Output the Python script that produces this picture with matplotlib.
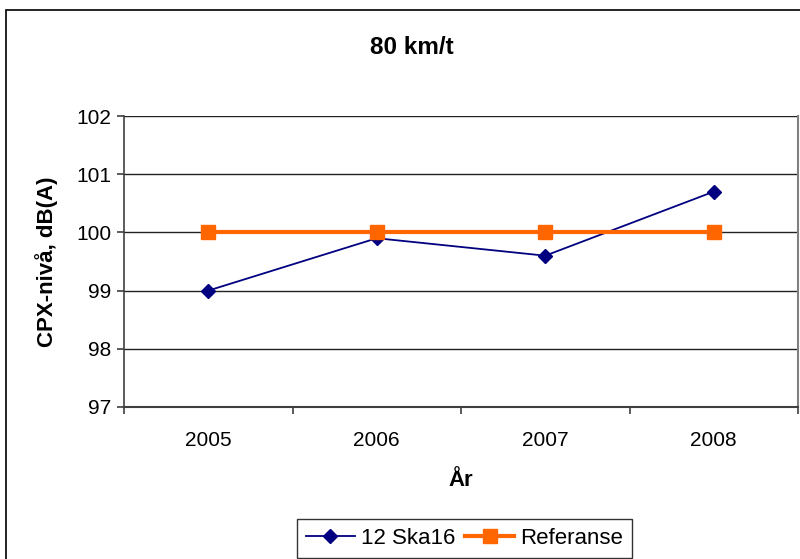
import matplotlib
matplotlib.use("Agg")
import matplotlib.pyplot as plt
from matplotlib.patches import Rectangle

plt.rcParams['font.family'] = ['Liberation Sans', 'DejaVu Sans']

years = ["2005", "2006", "2007", "2008"]
ska16 = [99.0, 99.9, 99.6, 100.7]
referanse = [100.0, 100.0, 100.0, 100.0]
yticks = [97, 98, 99, 100, 101, 102]

W, H = 800, 559
fig = plt.figure(figsize=(8, 5.59), dpi=100)
fig.patches.append(Rectangle((6 / W, -0.1), 1.2, (H - 10) / H + 0.1, transform=fig.transFigure,
                             fill=False, edgecolor='black', linewidth=1.2))

ax = fig.add_axes([124 / W, (H - 407) / H, (798 - 124) / W, (407 - 116) / H])
x = list(range(1, len(years) + 1))

ax.plot(x, ska16, color='#000080', linewidth=1.3, marker='D', markersize=7.5, label='12 Ska16', zorder=3)
ax.plot(x, referanse, color='#FF6600', linewidth=3, marker='s', markersize=9.5, label='Referanse', zorder=4)

ax.set_xlim(0.5, len(years) + 0.5)
ax.set_ylim(97, 102)
ax.set_yticks(yticks)
ax.set_yticklabels([str(v) for v in yticks], fontsize=15)
ax.set_xticks(x)
ax.set_xticklabels(years, fontsize=15)
ax.tick_params(axis='x', which='major', length=0, pad=17)
ax.set_xticks([i + 0.5 for i in range(0, len(years) + 1)], minor=True)
ax.tick_params(axis='x', which='minor', length=5, width=1.2, color='#404040', direction='out')
ax.tick_params(axis='y', length=5, width=1.2, color='#404040', direction='out', pad=4)

ax.grid(axis='y', color='#222222', linewidth=1)
ax.set_axisbelow(True)
ax.spines['top'].set_visible(False)
ax.spines['left'].set_color('#404040')
ax.spines['left'].set_linewidth(1.2)
ax.spines['bottom'].set_color('#404040')
ax.spines['bottom'].set_linewidth(1.5)
ax.spines['right'].set_color('#808080')
ax.spines['right'].set_linewidth(1.5)

ax.set_ylabel('CPX-nivå, dB(A)', fontsize=16, fontweight='bold', labelpad=13)
ax.set_xlabel('År', fontsize=16, fontweight='bold', labelpad=15)
fig.text(412 / W, 1 - 47 / H, '80 km/t', fontsize=17.5, fontweight='bold', ha='center', va='center')

leg = fig.legend(loc='upper left', bbox_to_anchor=(297 / W, 1 - 519 / H), fontsize=16,
                 ncol=2, frameon=True, fancybox=False, edgecolor='black', handlelength=2.2,
                 columnspacing=0.45, handletextpad=0.27, borderpad=0.4, borderaxespad=0)
leg.get_frame().set_linewidth(1.0)

fig.savefig('out.png', dpi=100)
